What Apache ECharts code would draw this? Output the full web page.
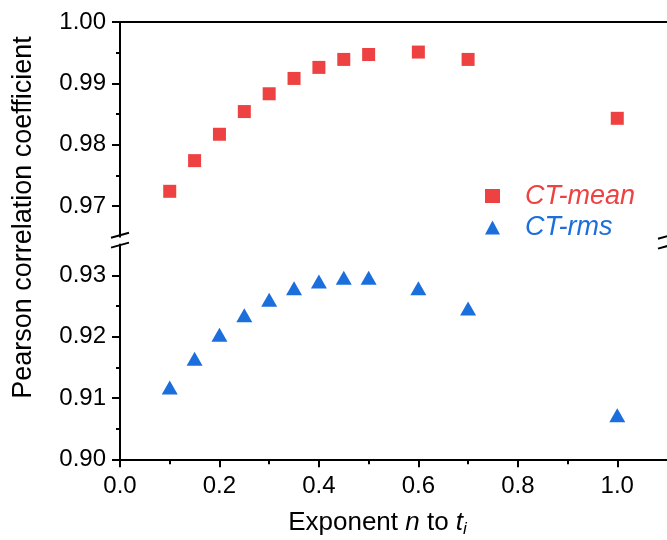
<!DOCTYPE html>
<html>
<head>
<meta charset="utf-8">
<script src="https://cdn.jsdelivr.net/npm/echarts@6/dist/echarts.min.js"></script>
<style>
html,body{margin:0;padding:0;background:#fff;}
#c{width:667px;height:540px;}
</style>
</head>
<body>
<div id="c"></div>
<script>
// Data
const xValues = [0.1, 0.15, 0.2, 0.25, 0.3, 0.35, 0.4, 0.45, 0.5, 0.6, 0.7, 1.0];
const ctMean = [0.9724, 0.9774, 0.9817, 0.9854, 0.9883, 0.9908, 0.9926, 0.9939, 0.9947, 0.9951, 0.9939, 0.9843];
const ctRms = [0.9117, 0.9164, 0.9203, 0.9235, 0.9260, 0.9279, 0.9290, 0.9296, 0.9296, 0.9279, 0.9246, 0.9072];
const seriesNames = ['CT-mean', 'CT-rms'];
// Ticks
const xMajorTicks = [0, 0.2, 0.4, 0.6, 0.8, 1.0];
const xMinorTicks = [0.1, 0.3, 0.5, 0.7, 0.9];
const yUpperMajor = [0.97, 0.98, 0.99, 1.00];
const yUpperMinor = [0.975, 0.985, 0.995];
const yLowerMajor = [0.90, 0.91, 0.92, 0.93];
const yLowerMinor = [0.905, 0.915, 0.925];
const xRange = [0, 1.1];
const yUpperRange = [0.965, 1.00];
const yLowerRange = [0.90, 0.935];

const RED = '#EE4242';
const BLUE = '#1B6FDC';
const FONT = "'Liberation Sans', Arial, sans-serif";
const AX = {color: '#000', width: 2};

const chart = echarts.init(document.getElementById('c'), null, {renderer: 'canvas'});

function pairs(xs, ys) { return xs.map((x, i) => [x, ys[i]]); }

const hidden = {show: false};
const option = {
  animation: false,
  backgroundColor: '#fff',
  grid: [
    {left: 120, top: 22, width: 550, height: 214.7},
    {left: 120, top: 244.6, width: 550, height: 214.7}
  ],
  xAxis: [
    {type: 'value', gridIndex: 0, position: 'top', min: xRange[0], max: xRange[1],
     axisLine: {show: true, lineStyle: AX}, axisTick: hidden, axisLabel: hidden, splitLine: hidden},
    {type: 'value', gridIndex: 1, position: 'bottom', min: xRange[0], max: xRange[1],
     axisLine: {show: true, lineStyle: AX},
     axisTick: {show: true, length: 8, lineStyle: AX, customValues: xMajorTicks},
     axisLabel: {show: true, customValues: xMajorTicks, margin: 15, fontSize: 24, fontFamily: FONT, color: '#000',
       formatter: v => v.toFixed(1)},
     splitLine: hidden},
    {type: 'value', gridIndex: 1, position: 'bottom', min: xRange[0], max: xRange[1],
     axisLine: hidden,
     axisTick: {show: true, length: 5, lineStyle: AX, customValues: xMinorTicks},
     axisLabel: {show: false, customValues: xMinorTicks},
     splitLine: hidden}
  ],
  yAxis: [
    {type: 'value', gridIndex: 0, position: 'left', min: yUpperRange[0], max: yUpperRange[1],
     axisLine: {show: true, lineStyle: AX},
     axisTick: {show: true, length: 8, lineStyle: AX, customValues: yUpperMajor},
     axisLabel: {show: true, customValues: yUpperMajor, margin: 14, fontSize: 24, fontFamily: FONT, color: '#000',
       formatter: v => v.toFixed(2)},
     splitLine: hidden},
    {type: 'value', gridIndex: 0, position: 'left', min: yUpperRange[0], max: yUpperRange[1],
     axisLine: hidden,
     axisTick: {show: true, length: 4, lineStyle: AX, customValues: yUpperMinor},
     axisLabel: {show: false, customValues: yUpperMinor},
     splitLine: hidden},
    {type: 'value', gridIndex: 1, position: 'left', min: yLowerRange[0], max: yLowerRange[1],
     axisLine: {show: true, lineStyle: AX},
     axisTick: {show: true, length: 8, lineStyle: AX, customValues: yLowerMajor},
     axisLabel: {show: true, customValues: yLowerMajor, margin: 14, fontSize: 24, fontFamily: FONT, color: '#000',
       formatter: v => v.toFixed(2)},
     splitLine: hidden},
    {type: 'value', gridIndex: 1, position: 'left', min: yLowerRange[0], max: yLowerRange[1],
     axisLine: hidden,
     axisTick: {show: true, length: 4, lineStyle: AX, customValues: yLowerMinor},
     axisLabel: {show: false, customValues: yLowerMinor},
     splitLine: hidden}
  ],
  legend: {
    orient: 'vertical', left: 485, top: 181, itemWidth: 15, itemHeight: 14, itemGap: 1.5,
    padding: 0, selectedMode: false, symbolKeepAspect: true,
    textStyle: {fontSize: 27, fontStyle: 'italic', fontFamily: FONT, lineHeight: 30, padding: [0, 0, 0, 20]},
    data: [
      {name: seriesNames[0], icon: 'rect', textStyle: {color: RED}},
      {name: seriesNames[1], icon: 'triangle', textStyle: {color: BLUE}}
    ]
  },
  series: [
    {name: seriesNames[0], type: 'scatter', xAxisIndex: 0, yAxisIndex: 0, symbol: 'rect', symbolSize: 13,
     itemStyle: {color: RED, opacity: 1}, data: pairs(xValues, ctMean)},
    {name: seriesNames[1], type: 'scatter', xAxisIndex: 1, yAxisIndex: 2, symbol: 'triangle', symbolSize: [16, 14],
     itemStyle: {color: BLUE, opacity: 1}, data: pairs(xValues, ctRms)}
  ]
};
chart.setOption(option);

// Axis break marks & titles
const axL = chart.convertToPixel({xAxisIndex: 1}, xRange[0]);
const axR = chart.convertToPixel({xAxisIndex: 1}, xRange[1]);
const yUB = chart.convertToPixel({yAxisIndex: 0}, yUpperRange[0]);
const yLT = chart.convertToPixel({yAxisIndex: 2}, yLowerRange[1]);
function slash(x, y) {
  return {type: 'line', silent: true, shape: {x1: x - 9, y1: y + 2.5, x2: x + 9, y2: y - 2.5},
          style: {stroke: '#000', lineWidth: 2}};
}
chart.setOption({
  graphic: [
    slash(axL, yUB - 1.5), slash(axL, yLT + 0.5),
    slash(axR, yUB - 0.5), slash(axR, yLT + 1.5),
    {type: 'text', x: 24, y: 217.5, rotation: Math.PI / 2,
     style: {text: 'Pearson correlation coefficient', fontSize: 27, fontFamily: FONT, fill: '#000',
             align: 'center', verticalAlign: 'middle'}},
    {type: 'text', x: 377.5, y: 523,
     style: {text: '{r|Exponent }{i|n}{r| to }{i|t}{s|i}', align: 'center', verticalAlign: 'middle',
       rich: {
         r: {fontSize: 26, fontFamily: FONT, fill: '#000', lineHeight: 30, verticalAlign: 'middle'},
         i: {fontSize: 26, fontFamily: FONT, fontStyle: 'italic', fill: '#000', lineHeight: 30, verticalAlign: 'middle'},
         s: {fontSize: 17, fontFamily: FONT, fontStyle: 'italic', fill: '#000', lineHeight: 14, verticalAlign: 'bottom'}
       }}}
  ]
});
</script>
</body>
</html>
